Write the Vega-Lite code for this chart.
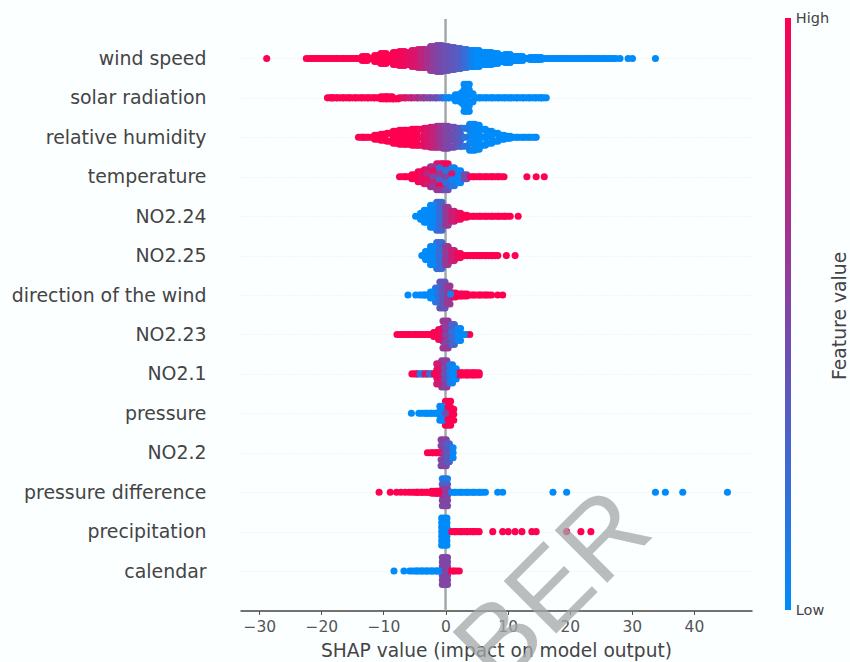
{"$schema":"https://vega.github.io/schema/vega-lite/v6.json","width":512,"height":591.5,"autosize":{"type":"none"},"padding":{"left":240,"top":19,"right":98,"bottom":51.5},"background":"#fcffff","config":{"view":{"stroke":null},"font":"DejaVu Sans"},
"datasets":{"swarm":[
{"f":"wind speed","x":-28.8,"o":0,"v":1},{"f":"wind speed","x":-22,"o":0,"v":1},{"f":"wind speed","x":-21,"o":0,"v":1},{"f":"wind speed","x":-20,"o":0,"v":1},{"f":"wind speed","x":-19,"o":0,"v":1},{"f":"wind speed","x":-18,"o":0,"v":1},{"f":"wind speed","x":-17,"o":0,"v":1},{"f":"wind speed","x":-16,"o":0,"v":1},{"f":"wind speed","x":-15,"o":0,"v":1},{"f":"wind speed","x":-14,"o":0,"v":1},{"f":"wind speed","x":-13,"o":-2,"v":1},{"f":"wind speed","x":-13,"o":2,"v":1},{"f":"wind speed","x":-12,"o":0,"v":1},{"f":"wind speed","x":-11,"o":-3,"v":1},{"f":"wind speed","x":-11,"o":3,"v":1},{"f":"wind speed","x":-10,"o":-5,"v":1},{"f":"wind speed","x":-10,"o":0,"v":1},{"f":"wind speed","x":-10,"o":5,"v":1},{"f":"wind speed","x":-9,"o":-3,"v":1},{"f":"wind speed","x":-9,"o":3,"v":1},
{"f":"wind speed","x":-8,"o":-6,"v":0.97},{"f":"wind speed","x":-8,"o":0,"v":0.97},{"f":"wind speed","x":-8,"o":6,"v":0.97},{"f":"wind speed","x":-7,"o":-7,"v":0.95},{"f":"wind speed","x":-7,"o":-3,"v":0.95},{"f":"wind speed","x":-7,"o":3,"v":0.95},{"f":"wind speed","x":-7,"o":7,"v":0.95},{"f":"wind speed","x":-6,"o":-6,"v":0.9},{"f":"wind speed","x":-6,"o":0,"v":0.9},{"f":"wind speed","x":-6,"o":6,"v":0.9},{"f":"wind speed","x":-5,"o":-8,"v":0.85},{"f":"wind speed","x":-5,"o":-3,"v":0.85},{"f":"wind speed","x":-5,"o":3,"v":0.85},{"f":"wind speed","x":-5,"o":8,"v":0.85},{"f":"wind speed","x":-4,"o":-9,"v":0.75},{"f":"wind speed","x":-4,"o":-6,"v":0.75},{"f":"wind speed","x":-4,"o":0,"v":0.75},{"f":"wind speed","x":-4,"o":6,"v":0.75},{"f":"wind speed","x":-4,"o":9,"v":0.75},{"f":"wind speed","x":-3,"o":-9,"v":0.65},{"f":"wind speed","x":-3,"o":-3,"v":0.65},{"f":"wind speed","x":-3,"o":3,"v":0.65},{"f":"wind speed","x":-3,"o":9,"v":0.65},
{"f":"wind speed","x":-2,"o":-12,"v":0.55},{"f":"wind speed","x":-2,"o":-6,"v":0.55},{"f":"wind speed","x":-2,"o":0,"v":0.55},{"f":"wind speed","x":-2,"o":6,"v":0.55},{"f":"wind speed","x":-2,"o":12,"v":0.55},{"f":"wind speed","x":-1,"o":-13,"v":0.48},{"f":"wind speed","x":-1,"o":-9,"v":0.48},{"f":"wind speed","x":-1,"o":-3,"v":0.48},{"f":"wind speed","x":-1,"o":3,"v":0.48},{"f":"wind speed","x":-1,"o":9,"v":0.48},{"f":"wind speed","x":-1,"o":13,"v":0.48},{"f":"wind speed","x":0,"o":-12,"v":0.42},{"f":"wind speed","x":0,"o":-6,"v":0.42},{"f":"wind speed","x":0,"o":0,"v":0.42},{"f":"wind speed","x":0,"o":6,"v":0.42},{"f":"wind speed","x":0,"o":12,"v":0.42},{"f":"wind speed","x":1,"o":-11,"v":0.38},{"f":"wind speed","x":1,"o":-9,"v":0.38},{"f":"wind speed","x":1,"o":-3,"v":0.38},{"f":"wind speed","x":1,"o":3,"v":0.38},{"f":"wind speed","x":1,"o":9,"v":0.38},{"f":"wind speed","x":1,"o":11,"v":0.38},{"f":"wind speed","x":2,"o":-10,"v":0.32},{"f":"wind speed","x":2,"o":-6,"v":0.32},{"f":"wind speed","x":2,"o":0,"v":0.32},{"f":"wind speed","x":2,"o":6,"v":0.32},{"f":"wind speed","x":2,"o":10,"v":0.32},{"f":"wind speed","x":3,"o":-9,"v":0.22},{"f":"wind speed","x":3,"o":-3,"v":0.22},{"f":"wind speed","x":3,"o":3,"v":0.22},{"f":"wind speed","x":3,"o":9,"v":0.22},{"f":"wind speed","x":4,"o":-8,"v":0.08},{"f":"wind speed","x":4,"o":-6,"v":0.08},{"f":"wind speed","x":4,"o":0,"v":0.08},{"f":"wind speed","x":4,"o":6,"v":0.08},{"f":"wind speed","x":4,"o":8,"v":0.08},
{"f":"wind speed","x":5,"o":-8,"v":0},{"f":"wind speed","x":5,"o":-3,"v":0},{"f":"wind speed","x":5,"o":3,"v":0},{"f":"wind speed","x":5,"o":8,"v":0},{"f":"wind speed","x":6,"o":-6,"v":0},{"f":"wind speed","x":6,"o":0,"v":0},{"f":"wind speed","x":6,"o":6,"v":0},{"f":"wind speed","x":7,"o":-6,"v":0},{"f":"wind speed","x":7,"o":-3,"v":0},{"f":"wind speed","x":7,"o":3,"v":0},{"f":"wind speed","x":7,"o":6,"v":0},{"f":"wind speed","x":8,"o":-5,"v":0},{"f":"wind speed","x":8,"o":0,"v":0},{"f":"wind speed","x":8,"o":5,"v":0},{"f":"wind speed","x":9,"o":-3,"v":0},{"f":"wind speed","x":9,"o":3,"v":0},{"f":"wind speed","x":10,"o":-4,"v":0},{"f":"wind speed","x":10,"o":0,"v":0},{"f":"wind speed","x":10,"o":4,"v":0},{"f":"wind speed","x":11,"o":-2,"v":0},{"f":"wind speed","x":11,"o":2,"v":0},{"f":"wind speed","x":12,"o":-2,"v":0},{"f":"wind speed","x":12,"o":2,"v":0},{"f":"wind speed","x":13,"o":0,"v":0},{"f":"wind speed","x":14,"o":-1,"v":0},{"f":"wind speed","x":14,"o":1,"v":0},{"f":"wind speed","x":15,"o":-1,"v":0},{"f":"wind speed","x":15,"o":1,"v":0},{"f":"wind speed","x":16,"o":0,"v":0},{"f":"wind speed","x":17,"o":0,"v":0},{"f":"wind speed","x":18,"o":0,"v":0},{"f":"wind speed","x":19,"o":0,"v":0},{"f":"wind speed","x":20,"o":0,"v":0},{"f":"wind speed","x":21,"o":0,"v":0},{"f":"wind speed","x":22,"o":0,"v":0},{"f":"wind speed","x":23,"o":0,"v":0},{"f":"wind speed","x":24,"o":0,"v":0},{"f":"wind speed","x":25,"o":0,"v":0},{"f":"wind speed","x":26,"o":0,"v":0},{"f":"wind speed","x":27,"o":0,"v":0},{"f":"wind speed","x":28.1,"o":0,"v":0},{"f":"wind speed","x":29.4,"o":0,"v":0},{"f":"wind speed","x":30.1,"o":0,"v":0},{"f":"wind speed","x":33.8,"o":0,"v":0},
{"f":"solar radiation","x":-18.6,"o":0,"v":1},{"f":"solar radiation","x":-18,"o":0,"v":1},{"f":"solar radiation","x":-17,"o":0,"v":1},{"f":"solar radiation","x":-16,"o":0,"v":1},{"f":"solar radiation","x":-15,"o":0,"v":1},{"f":"solar radiation","x":-14,"o":0,"v":1},{"f":"solar radiation","x":-13,"o":0,"v":1},{"f":"solar radiation","x":-12,"o":0,"v":1},{"f":"solar radiation","x":-11,"o":0,"v":1},{"f":"solar radiation","x":-10,"o":-1,"v":1},{"f":"solar radiation","x":-10,"o":1,"v":1},{"f":"solar radiation","x":-9,"o":-1,"v":1},{"f":"solar radiation","x":-9,"o":1,"v":1},{"f":"solar radiation","x":-8,"o":1,"v":1},{"f":"solar radiation","x":-7,"o":0,"v":0.9},{"f":"solar radiation","x":-6,"o":0,"v":0.8},{"f":"solar radiation","x":-5,"o":0,"v":0.72},{"f":"solar radiation","x":-4,"o":0,"v":0.6},{"f":"solar radiation","x":-3,"o":0,"v":0.5},{"f":"solar radiation","x":-2,"o":0,"v":0.45},{"f":"solar radiation","x":-1,"o":0,"v":0.3},{"f":"solar radiation","x":0,"o":0,"v":0.03},{"f":"solar radiation","x":1,"o":0,"v":0},{"f":"solar radiation","x":2,"o":-3,"v":0},{"f":"solar radiation","x":2,"o":3,"v":0},{"f":"solar radiation","x":3,"o":-5,"v":0},{"f":"solar radiation","x":3,"o":0,"v":0},{"f":"solar radiation","x":3,"o":5,"v":0},{"f":"solar radiation","x":3.4,"o":-13.5,"v":0},{"f":"solar radiation","x":3.4,"o":-8,"v":0},{"f":"solar radiation","x":3.4,"o":8,"v":0},{"f":"solar radiation","x":3.4,"o":13.5,"v":0},{"f":"solar radiation","x":4,"o":-4,"v":0},{"f":"solar radiation","x":4,"o":4,"v":0},{"f":"solar radiation","x":5,"o":0,"v":0},{"f":"solar radiation","x":6,"o":0,"v":0},{"f":"solar radiation","x":7,"o":0,"v":0},{"f":"solar radiation","x":8,"o":0,"v":0},{"f":"solar radiation","x":9,"o":0,"v":0},{"f":"solar radiation","x":10,"o":0,"v":0},{"f":"solar radiation","x":11,"o":0,"v":0},{"f":"solar radiation","x":12,"o":0,"v":0},{"f":"solar radiation","x":13,"o":0,"v":0},{"f":"solar radiation","x":14,"o":0,"v":0},{"f":"solar radiation","x":15,"o":0,"v":0},{"f":"solar radiation","x":15.8,"o":0,"v":0},
{"f":"relative humidity","x":-13.6,"o":0,"v":1},{"f":"relative humidity","x":-13,"o":0,"v":1},{"f":"relative humidity","x":-12,"o":0,"v":1},{"f":"relative humidity","x":-11,"o":-2,"v":1},{"f":"relative humidity","x":-11,"o":2,"v":1},{"f":"relative humidity","x":-10,"o":-3,"v":1},{"f":"relative humidity","x":-10,"o":3,"v":1},{"f":"relative humidity","x":-9,"o":-4,"v":1},{"f":"relative humidity","x":-9,"o":4,"v":1},{"f":"relative humidity","x":-8,"o":-6,"v":1},{"f":"relative humidity","x":-8,"o":0,"v":1},{"f":"relative humidity","x":-8,"o":6,"v":1},{"f":"relative humidity","x":-7,"o":-7,"v":1},{"f":"relative humidity","x":-7,"o":-3,"v":1},{"f":"relative humidity","x":-7,"o":3,"v":1},{"f":"relative humidity","x":-7,"o":7,"v":1},{"f":"relative humidity","x":-6,"o":-7,"v":1},{"f":"relative humidity","x":-6,"o":0,"v":1},{"f":"relative humidity","x":-6,"o":7,"v":1},{"f":"relative humidity","x":-5,"o":-8,"v":1},{"f":"relative humidity","x":-5,"o":-3,"v":1},{"f":"relative humidity","x":-5,"o":3,"v":1},{"f":"relative humidity","x":-5,"o":8,"v":1},{"f":"relative humidity","x":-4,"o":-8,"v":0.92},{"f":"relative humidity","x":-4,"o":0,"v":0.92},{"f":"relative humidity","x":-4,"o":8,"v":0.92},{"f":"relative humidity","x":-3,"o":-9,"v":0.85},{"f":"relative humidity","x":-3,"o":-3,"v":0.85},{"f":"relative humidity","x":-3,"o":3,"v":0.85},{"f":"relative humidity","x":-3,"o":9,"v":0.85},{"f":"relative humidity","x":-2,"o":-10,"v":0.75},{"f":"relative humidity","x":-2,"o":-5,"v":0.75},{"f":"relative humidity","x":-2,"o":0,"v":0.75},{"f":"relative humidity","x":-2,"o":5,"v":0.75},{"f":"relative humidity","x":-2,"o":10,"v":0.75},{"f":"relative humidity","x":-1,"o":-11,"v":0.62},{"f":"relative humidity","x":-1,"o":-6,"v":0.62},{"f":"relative humidity","x":-1,"o":-1,"v":0.62},{"f":"relative humidity","x":-1,"o":4,"v":0.62},{"f":"relative humidity","x":-1,"o":10,"v":0.62},{"f":"relative humidity","x":0,"o":-11,"v":0.5},{"f":"relative humidity","x":0,"o":-6,"v":0.5},{"f":"relative humidity","x":0,"o":0,"v":0.5},{"f":"relative humidity","x":0,"o":6,"v":0.5},{"f":"relative humidity","x":0,"o":11,"v":0.5},{"f":"relative humidity","x":1,"o":-10,"v":0.45},{"f":"relative humidity","x":1,"o":-3,"v":0.45},{"f":"relative humidity","x":1,"o":3,"v":0.45},{"f":"relative humidity","x":1,"o":10,"v":0.45},{"f":"relative humidity","x":2,"o":-9,"v":0.35},{"f":"relative humidity","x":2,"o":-3,"v":0.35},{"f":"relative humidity","x":2,"o":3,"v":0.35},{"f":"relative humidity","x":2,"o":9,"v":0.35},{"f":"relative humidity","x":3,"o":-9,"v":0.15},{"f":"relative humidity","x":3,"o":0,"v":0.15},{"f":"relative humidity","x":3,"o":9,"v":0.15},
{"f":"relative humidity","x":4.3,"o":-13,"v":0.03},{"f":"relative humidity","x":4.3,"o":-7,"v":0.03},{"f":"relative humidity","x":4.3,"o":-1,"v":0.03},{"f":"relative humidity","x":4.3,"o":6,"v":0.03},{"f":"relative humidity","x":4.3,"o":13,"v":0.03},{"f":"relative humidity","x":5,"o":-12,"v":0},{"f":"relative humidity","x":5,"o":-3,"v":0},{"f":"relative humidity","x":5,"o":3,"v":0},{"f":"relative humidity","x":5,"o":12,"v":0},{"f":"relative humidity","x":6,"o":-8,"v":0},{"f":"relative humidity","x":6,"o":0,"v":0},{"f":"relative humidity","x":6,"o":8,"v":0},{"f":"relative humidity","x":7,"o":-6,"v":0},{"f":"relative humidity","x":7,"o":-1,"v":0},{"f":"relative humidity","x":7,"o":6,"v":0},{"f":"relative humidity","x":8,"o":-4,"v":0},{"f":"relative humidity","x":8,"o":4,"v":0},{"f":"relative humidity","x":9,"o":-2,"v":0},{"f":"relative humidity","x":9,"o":2,"v":0},{"f":"relative humidity","x":10,"o":-1,"v":0},{"f":"relative humidity","x":10,"o":1,"v":0},{"f":"relative humidity","x":11,"o":0,"v":0},{"f":"relative humidity","x":12,"o":0,"v":0},{"f":"relative humidity","x":13,"o":0,"v":0},{"f":"relative humidity","x":14,"o":0,"v":0},{"f":"relative humidity","x":14.6,"o":0,"v":0},
{"f":"temperature","x":-7,"o":0,"v":1},{"f":"temperature","x":-6,"o":0,"v":1},{"f":"temperature","x":-5,"o":-2,"v":1},{"f":"temperature","x":-5,"o":2,"v":1},{"f":"temperature","x":-4,"o":-5,"v":0.95},{"f":"temperature","x":-4,"o":0,"v":0.9},{"f":"temperature","x":-4,"o":5,"v":0.95},{"f":"temperature","x":-3,"o":-7,"v":0.85},{"f":"temperature","x":-3,"o":-3,"v":0.7},{"f":"temperature","x":-3,"o":3,"v":0.9},{"f":"temperature","x":-3,"o":7,"v":0.8},{"f":"temperature","x":-2,"o":-10,"v":0.6},{"f":"temperature","x":-2,"o":-6,"v":0.9},{"f":"temperature","x":-2,"o":0,"v":0.5},{"f":"temperature","x":-2,"o":6,"v":0.75},{"f":"temperature","x":-2,"o":10,"v":0.6},{"f":"temperature","x":-1,"o":-13,"v":0.9},{"f":"temperature","x":-1,"o":-9,"v":0.2},{"f":"temperature","x":-1,"o":-3,"v":0.6},{"f":"temperature","x":-1,"o":3,"v":0.3},{"f":"temperature","x":-1,"o":9,"v":1},{"f":"temperature","x":-1,"o":13,"v":0.6},{"f":"temperature","x":0,"o":-13,"v":0.95},{"f":"temperature","x":0,"o":-6,"v":0.15},{"f":"temperature","x":0,"o":0,"v":0.5},{"f":"temperature","x":0,"o":6,"v":0.2},{"f":"temperature","x":0,"o":13,"v":0.4},{"f":"temperature","x":1,"o":-9,"v":0.1},{"f":"temperature","x":1,"o":-3,"v":0.85},{"f":"temperature","x":1,"o":3,"v":0.05},{"f":"temperature","x":1,"o":9,"v":0.15},{"f":"temperature","x":2,"o":-6,"v":0.03},{"f":"temperature","x":2,"o":0,"v":0.03},{"f":"temperature","x":2,"o":6,"v":0.03},{"f":"temperature","x":3,"o":-2,"v":0.45},{"f":"temperature","x":3,"o":2,"v":0.45},{"f":"temperature","x":4,"o":0,"v":1},{"f":"temperature","x":5,"o":0,"v":1},{"f":"temperature","x":6,"o":0,"v":1},{"f":"temperature","x":7,"o":0,"v":1},{"f":"temperature","x":8,"o":0,"v":1},{"f":"temperature","x":9,"o":0,"v":1},{"f":"temperature","x":13.1,"o":0,"v":1},{"f":"temperature","x":14.6,"o":0,"v":1},{"f":"temperature","x":15.9,"o":0,"v":1},
{"f":"NO2.24","x":-4.4,"o":0,"v":0},{"f":"NO2.24","x":-3.6,"o":-3,"v":0},{"f":"NO2.24","x":-3.6,"o":3,"v":0},{"f":"NO2.24","x":-3,"o":-6,"v":0},{"f":"NO2.24","x":-3,"o":0,"v":0},{"f":"NO2.24","x":-3,"o":6,"v":0},{"f":"NO2.24","x":-2,"o":-11,"v":0.03},{"f":"NO2.24","x":-2,"o":-5,"v":0.03},{"f":"NO2.24","x":-2,"o":0,"v":0.03},{"f":"NO2.24","x":-2,"o":5,"v":0.03},{"f":"NO2.24","x":-2,"o":11,"v":0.03},{"f":"NO2.24","x":-1,"o":-14,"v":0.25},{"f":"NO2.24","x":-1,"o":-8,"v":0.25},{"f":"NO2.24","x":-1,"o":-3,"v":0.2},{"f":"NO2.24","x":-1,"o":3,"v":0.2},{"f":"NO2.24","x":-1,"o":8,"v":0.25},{"f":"NO2.24","x":-1,"o":14,"v":0.25},{"f":"NO2.24","x":0,"o":-9,"v":0.6},{"f":"NO2.24","x":0,"o":-3,"v":0.6},{"f":"NO2.24","x":0,"o":3,"v":0.6},{"f":"NO2.24","x":0,"o":9,"v":0.6},{"f":"NO2.24","x":1,"o":-5,"v":0.78},{"f":"NO2.24","x":1,"o":0,"v":0.78},{"f":"NO2.24","x":1,"o":5,"v":0.78},{"f":"NO2.24","x":2,"o":-3,"v":0.92},{"f":"NO2.24","x":2,"o":3,"v":0.92},{"f":"NO2.24","x":3,"o":-1,"v":1},{"f":"NO2.24","x":3,"o":1,"v":1},{"f":"NO2.24","x":4,"o":0,"v":1},{"f":"NO2.24","x":5,"o":0,"v":1},{"f":"NO2.24","x":6,"o":0,"v":1},{"f":"NO2.24","x":7,"o":0,"v":1},{"f":"NO2.24","x":8,"o":0,"v":1},{"f":"NO2.24","x":9,"o":0,"v":1},{"f":"NO2.24","x":10,"o":0,"v":1},{"f":"NO2.24","x":11.7,"o":0,"v":1},
{"f":"NO2.25","x":-3.4,"o":0,"v":0},{"f":"NO2.25","x":-2.8,"o":-4,"v":0},{"f":"NO2.25","x":-2.8,"o":4,"v":0},{"f":"NO2.25","x":-2,"o":-9,"v":0.03},{"f":"NO2.25","x":-2,"o":-3,"v":0.03},{"f":"NO2.25","x":-2,"o":3,"v":0.03},{"f":"NO2.25","x":-2,"o":9,"v":0.03},{"f":"NO2.25","x":-1,"o":-13,"v":0.22},{"f":"NO2.25","x":-1,"o":-6,"v":0.22},{"f":"NO2.25","x":-1,"o":0,"v":0.22},{"f":"NO2.25","x":-1,"o":6,"v":0.22},{"f":"NO2.25","x":-1,"o":13,"v":0.22},{"f":"NO2.25","x":0,"o":-9,"v":0.6},{"f":"NO2.25","x":0,"o":-3,"v":0.6},{"f":"NO2.25","x":0,"o":3,"v":0.6},{"f":"NO2.25","x":0,"o":9,"v":0.6},{"f":"NO2.25","x":1,"o":-5,"v":0.8},{"f":"NO2.25","x":1,"o":0,"v":0.8},{"f":"NO2.25","x":1,"o":5,"v":0.8},{"f":"NO2.25","x":2,"o":-2,"v":0.95},{"f":"NO2.25","x":2,"o":2,"v":0.95},{"f":"NO2.25","x":3,"o":0,"v":1},{"f":"NO2.25","x":4,"o":0,"v":1},{"f":"NO2.25","x":5,"o":0,"v":1},{"f":"NO2.25","x":6,"o":0,"v":1},{"f":"NO2.25","x":7,"o":0,"v":1},{"f":"NO2.25","x":8,"o":0,"v":1},{"f":"NO2.25","x":9.8,"o":0,"v":1},{"f":"NO2.25","x":11.2,"o":0,"v":1},
{"f":"direction of the wind","x":-6.05,"o":0,"v":0},{"f":"direction of the wind","x":-4.8,"o":0,"v":0},{"f":"direction of the wind","x":-3.8,"o":0,"v":0},{"f":"direction of the wind","x":-3,"o":0,"v":0},{"f":"direction of the wind","x":-2,"o":-3,"v":0},{"f":"direction of the wind","x":-2,"o":3,"v":0},{"f":"direction of the wind","x":-1.2,"o":-7,"v":0.2},{"f":"direction of the wind","x":-1.2,"o":0,"v":0.2},{"f":"direction of the wind","x":-1.2,"o":7,"v":0.2},{"f":"direction of the wind","x":-0.5,"o":-13,"v":0.4},{"f":"direction of the wind","x":-0.5,"o":-6,"v":0.4},{"f":"direction of the wind","x":-0.5,"o":0,"v":0.35},{"f":"direction of the wind","x":-0.5,"o":6,"v":0.4},{"f":"direction of the wind","x":-0.5,"o":13,"v":0.4},{"f":"direction of the wind","x":0.3,"o":-9,"v":0.6},{"f":"direction of the wind","x":0.3,"o":-3,"v":0.6},{"f":"direction of the wind","x":0.3,"o":3,"v":0.6},{"f":"direction of the wind","x":0.3,"o":9,"v":0.6},{"f":"direction of the wind","x":1.2,"o":-2,"v":0.9},{"f":"direction of the wind","x":1.2,"o":2,"v":0.9},{"f":"direction of the wind","x":2,"o":-1,"v":1},{"f":"direction of the wind","x":2,"o":1,"v":1},{"f":"direction of the wind","x":3,"o":-1,"v":1},{"f":"direction of the wind","x":3,"o":1,"v":1},{"f":"direction of the wind","x":4,"o":0,"v":1},{"f":"direction of the wind","x":5,"o":0,"v":1},{"f":"direction of the wind","x":6,"o":0,"v":1},{"f":"direction of the wind","x":7,"o":0,"v":1},{"f":"direction of the wind","x":8.4,"o":0,"v":1},{"f":"direction of the wind","x":9.2,"o":0,"v":1},{"f":"direction of the wind","x":0.8,"o":-1,"v":0.05},
{"f":"NO2.23","x":-7.4,"o":0,"v":1},{"f":"NO2.23","x":-6.4,"o":0,"v":1},{"f":"NO2.23","x":-5.4,"o":0,"v":1},{"f":"NO2.23","x":-4.4,"o":0,"v":1},{"f":"NO2.23","x":-3.4,"o":0,"v":1},{"f":"NO2.23","x":-2.4,"o":0,"v":1},{"f":"NO2.23","x":-1.5,"o":-2,"v":1},{"f":"NO2.23","x":-1.5,"o":2,"v":1},{"f":"NO2.23","x":-0.7,"o":-5,"v":0.9},{"f":"NO2.23","x":-0.7,"o":0,"v":0.9},{"f":"NO2.23","x":-0.7,"o":5,"v":0.9},{"f":"NO2.23","x":0,"o":-13.5,"v":0.6},{"f":"NO2.23","x":0,"o":-7,"v":0.55},{"f":"NO2.23","x":0,"o":0,"v":0.5},{"f":"NO2.23","x":0,"o":7,"v":0.5},{"f":"NO2.23","x":0,"o":13.5,"v":0.6},{"f":"NO2.23","x":1,"o":-10,"v":0.3},{"f":"NO2.23","x":1,"o":-3,"v":0.2},{"f":"NO2.23","x":1,"o":3,"v":0.25},{"f":"NO2.23","x":1,"o":10,"v":0.3},{"f":"NO2.23","x":2,"o":-6,"v":0.03},{"f":"NO2.23","x":2,"o":0,"v":0.03},{"f":"NO2.23","x":2,"o":6,"v":0.03},{"f":"NO2.23","x":3.9,"o":0,"v":1},{"f":"NO2.23","x":3,"o":0,"v":0},
{"f":"NO2.1","x":-5,"o":0,"v":1},{"f":"NO2.1","x":-4.1,"o":0,"v":0.1},{"f":"NO2.1","x":-3.3,"o":0,"v":0.9},{"f":"NO2.1","x":-2.6,"o":0,"v":0.2},{"f":"NO2.1","x":-1.8,"o":0,"v":1},{"f":"NO2.1","x":-1,"o":-10,"v":0.8},{"f":"NO2.1","x":-1,"o":-4,"v":0.9},{"f":"NO2.1","x":-1,"o":4,"v":0.9},{"f":"NO2.1","x":-1,"o":10,"v":0.8},{"f":"NO2.1","x":2,"o":-1,"v":1},{"f":"NO2.1","x":2,"o":1,"v":1},{"f":"NO2.1","x":3,"o":-1,"v":1},{"f":"NO2.1","x":3,"o":1,"v":1},{"f":"NO2.1","x":4,"o":-1,"v":1},{"f":"NO2.1","x":4,"o":1,"v":1},{"f":"NO2.1","x":5,"o":-1,"v":1},{"f":"NO2.1","x":5,"o":1,"v":1},{"f":"NO2.1","x":-0.2,"o":-13,"v":0.55},{"f":"NO2.1","x":-0.2,"o":-6,"v":0.45},{"f":"NO2.1","x":-0.2,"o":0,"v":0.4},{"f":"NO2.1","x":-0.2,"o":6,"v":0.45},{"f":"NO2.1","x":-0.2,"o":13,"v":0.55},{"f":"NO2.1","x":0.7,"o":-9,"v":0.1},{"f":"NO2.1","x":0.7,"o":-3,"v":0.1},{"f":"NO2.1","x":0.7,"o":3,"v":0.1},{"f":"NO2.1","x":0.7,"o":9,"v":0.1},{"f":"NO2.1","x":1.3,"o":-5,"v":0},{"f":"NO2.1","x":1.3,"o":0,"v":0},{"f":"NO2.1","x":1.3,"o":5,"v":0},
{"f":"pressure","x":-5.5,"o":0,"v":0},{"f":"pressure","x":-4.3,"o":0,"v":0},{"f":"pressure","x":-3.5,"o":0,"v":0},{"f":"pressure","x":-2.7,"o":0,"v":0},{"f":"pressure","x":-1.9,"o":0,"v":0},{"f":"pressure","x":-1.1,"o":0,"v":0},{"f":"pressure","x":-0.5,"o":-7,"v":0.02},{"f":"pressure","x":-0.5,"o":-2,"v":0.02},{"f":"pressure","x":-0.5,"o":2,"v":0.02},{"f":"pressure","x":-0.5,"o":7,"v":0.02},{"f":"pressure","x":0.4,"o":-12,"v":1},{"f":"pressure","x":0.4,"o":-6,"v":1},{"f":"pressure","x":0.4,"o":6,"v":1},{"f":"pressure","x":0.4,"o":12,"v":1},{"f":"pressure","x":0.9,"o":-4,"v":1},{"f":"pressure","x":0.9,"o":1,"v":1},{"f":"pressure","x":0.9,"o":7,"v":1},{"f":"pressure","x":0,"o":0,"v":0.45},
{"f":"NO2.2","x":-2.5,"o":0,"v":1},{"f":"NO2.2","x":-1.6,"o":0,"v":1},{"f":"NO2.2","x":-1,"o":0,"v":1},{"f":"NO2.2","x":0.8,"o":-5,"v":0.03},{"f":"NO2.2","x":0.8,"o":0,"v":0.03},{"f":"NO2.2","x":0.8,"o":5,"v":0.03},{"f":"NO2.2","x":-0.3,"o":-13,"v":0.55},{"f":"NO2.2","x":-0.3,"o":-7,"v":0.5},{"f":"NO2.2","x":-0.3,"o":0,"v":0.6},{"f":"NO2.2","x":-0.3,"o":7,"v":0.5},{"f":"NO2.2","x":-0.3,"o":13,"v":0.5},{"f":"NO2.2","x":0.2,"o":-9,"v":0.3},{"f":"NO2.2","x":0.2,"o":-3,"v":0.35},{"f":"NO2.2","x":0.2,"o":3,"v":0.35},{"f":"NO2.2","x":0.2,"o":9,"v":0.35},
{"f":"pressure difference","x":-10.7,"o":0,"v":1},{"f":"pressure difference","x":-8.9,"o":0,"v":1},{"f":"pressure difference","x":-7.9,"o":0,"v":1},{"f":"pressure difference","x":-7.2,"o":0,"v":1},{"f":"pressure difference","x":-6.5,"o":0,"v":1},{"f":"pressure difference","x":-5.9,"o":0,"v":1},{"f":"pressure difference","x":-5,"o":0,"v":1},{"f":"pressure difference","x":-4.2,"o":0,"v":1},{"f":"pressure difference","x":-3.4,"o":0,"v":1},{"f":"pressure difference","x":-2.6,"o":0,"v":1},{"f":"pressure difference","x":-1.8,"o":-1,"v":1},{"f":"pressure difference","x":-1.8,"o":1,"v":1},{"f":"pressure difference","x":-1,"o":-1,"v":1},{"f":"pressure difference","x":-1,"o":1,"v":1},{"f":"pressure difference","x":1,"o":0,"v":0},{"f":"pressure difference","x":2,"o":0,"v":0},{"f":"pressure difference","x":3,"o":0,"v":0},{"f":"pressure difference","x":4,"o":0,"v":0},{"f":"pressure difference","x":5,"o":0,"v":0},{"f":"pressure difference","x":6,"o":0,"v":0},{"f":"pressure difference","x":8.4,"o":0,"v":0},{"f":"pressure difference","x":9.2,"o":0,"v":0},{"f":"pressure difference","x":17.3,"o":0,"v":0},{"f":"pressure difference","x":19.5,"o":0,"v":0},{"f":"pressure difference","x":33.8,"o":0,"v":0},{"f":"pressure difference","x":35.4,"o":0,"v":0},{"f":"pressure difference","x":38.2,"o":0,"v":0},{"f":"pressure difference","x":45.4,"o":0,"v":0},{"f":"pressure difference","x":-0.1,"o":-13.5,"v":0.1},{"f":"pressure difference","x":-0.1,"o":-8,"v":0.3},{"f":"pressure difference","x":-0.1,"o":-3,"v":0.55},{"f":"pressure difference","x":-0.1,"o":3,"v":0.55},{"f":"pressure difference","x":-0.1,"o":8,"v":0.5},{"f":"pressure difference","x":-0.1,"o":13.5,"v":0.5},
{"f":"precipitation","x":1,"o":0,"v":1},{"f":"precipitation","x":2,"o":0,"v":1},{"f":"precipitation","x":3,"o":0,"v":1},{"f":"precipitation","x":4,"o":0,"v":1},{"f":"precipitation","x":5,"o":0,"v":1},{"f":"precipitation","x":7.6,"o":0,"v":1},{"f":"precipitation","x":9.2,"o":0,"v":1},{"f":"precipitation","x":10.1,"o":0,"v":1},{"f":"precipitation","x":11.2,"o":0,"v":1},{"f":"precipitation","x":12.3,"o":0,"v":1},{"f":"precipitation","x":13.9,"o":0,"v":1},{"f":"precipitation","x":14.6,"o":0,"v":1},{"f":"precipitation","x":19.5,"o":0,"v":1},{"f":"precipitation","x":21.8,"o":0,"v":1},{"f":"precipitation","x":23.4,"o":0,"v":1},{"f":"precipitation","x":-0.2,"o":-13.5,"v":0},{"f":"precipitation","x":-0.2,"o":-9,"v":0},{"f":"precipitation","x":-0.2,"o":-4.5,"v":0},{"f":"precipitation","x":-0.2,"o":0,"v":0},{"f":"precipitation","x":-0.2,"o":4.5,"v":0},{"f":"precipitation","x":-0.2,"o":9,"v":0},{"f":"precipitation","x":-0.2,"o":13.5,"v":0},
{"f":"calendar","x":-8.3,"o":0,"v":0},{"f":"calendar","x":-6.7,"o":0,"v":0},{"f":"calendar","x":-5.8,"o":0,"v":0},{"f":"calendar","x":-5,"o":0,"v":0},{"f":"calendar","x":-4.2,"o":0,"v":0},{"f":"calendar","x":-3.4,"o":0,"v":0},{"f":"calendar","x":-2.6,"o":0,"v":0},{"f":"calendar","x":-1.8,"o":0,"v":0},{"f":"calendar","x":-1,"o":0,"v":0},{"f":"calendar","x":0.8,"o":0,"v":1},{"f":"calendar","x":1.8,"o":0,"v":1},{"f":"calendar","x":-0.1,"o":-13.5,"v":0.5},{"f":"calendar","x":-0.1,"o":-9,"v":0.5},{"f":"calendar","x":-0.1,"o":-4.5,"v":0.5},{"f":"calendar","x":-0.1,"o":0,"v":0.5},{"f":"calendar","x":-0.1,"o":4.5,"v":0.5},{"f":"calendar","x":-0.1,"o":9,"v":0.5},{"f":"calendar","x":-0.1,"o":13.5,"v":0.5}
]},
"layer":[
{"data":{"values":[{"x":0}]},"mark":{"type":"rule","color":"#a5a8a8","strokeWidth":2.5},"encoding":{"x":{"field":"x","type":"quantitative","scale":{"domain":[-33.1,49.35],"nice":false,"zero":false},"axis":{"values":[-30,-20,-10,0,10,20,30,40],"title":"SHAP value (impact on model output)","grid":false,"domainColor":"#444","domainWidth":1.4,"tickColor":"#555","tickSize":4,"labelColor":"#555","labelFontSize":15.5,"labelPadding":5,"titleColor":"#444","titleFontSize":18.6,"titleFontWeight":"normal","titlePadding":6}}}},
{"data":{"name":"swarm"},"transform":[{"filter":"indexof([-28.8,28.1,29.4,30.1,33.8,13.1,14.6,15.9,11.7,9.8,11.2,-6.05,-4.8,8.4,9.2,3.9,-5.5,-4.3,-10.7,-8.9,-7.9,-7.2,-6.5,-5.9,17.3,19.5,35.4,38.2,45.4,7.6,10.1,12.3,13.9,21.8,23.4,-8.3,-6.7,-5.8],datum.x)<0"}],"mark":{"type":"point","filled":true,"opacity":1,"size":50,"shape":"circle"},"encoding":{"x":{"field":"x","type":"quantitative"},"xOffset":{"value":-2.6},"y":{"field":"f","type":"nominal","scale":{"type":"point","padding":1}},"yOffset":{"field":"o","type":"quantitative","scale":{"domain":[-20,20],"range":[-20,20]}},"color":{"field":"v","type":"quantitative"}}},
{"data":{"name":"swarm"},"transform":[{"filter":"indexof([-28.8,28.1,29.4,30.1,33.8,13.1,14.6,15.9,11.7,9.8,11.2,-6.05,-4.8,8.4,9.2,3.9,-5.5,-4.3,-10.7,-8.9,-7.9,-7.2,-6.5,-5.9,17.3,19.5,35.4,38.2,45.4,7.6,10.1,12.3,13.9,21.8,23.4,-8.3,-6.7,-5.8],datum.x)<0"}],"mark":{"type":"point","filled":true,"opacity":1,"size":50,"shape":"circle"},"encoding":{"x":{"field":"x","type":"quantitative"},"xOffset":{"value":2.6},"y":{"field":"f","type":"nominal","scale":{"type":"point","padding":1}},"yOffset":{"field":"o","type":"quantitative","scale":{"domain":[-20,20],"range":[-20,20]}},"color":{"field":"v","type":"quantitative"}}},
{"data":{"name":"swarm"},"mark":{"type":"point","filled":true,"opacity":1,"size":50,"shape":"circle"},"encoding":{"x":{"field":"x","type":"quantitative"},"y":{"field":"f","type":"nominal","sort":null,"title":null,"scale":{"type":"point","padding":1,"domain":["wind speed","solar radiation","relative humidity","temperature","NO2.24","NO2.25","direction of the wind","NO2.23","NO2.1","pressure","NO2.2","pressure difference","precipitation","calendar"]},"axis":{"domain":false,"ticks":false,"labelPadding":34,"labelFontSize":18.9,"labelColor":"#444","labelLimit":240,"grid":true,"gridColor":"#f3e6e8","gridDash":[1,2],"gridWidth":1.2}},"yOffset":{"field":"o","type":"quantitative","scale":{"domain":[-20,20],"range":[-20,20]}},"color":{"field":"v","type":"quantitative","scale":{"domain":[0,1],"range":["#008bfb","#ff0051"],"interpolate":"rgb"},"legend":{"orient":"none","legendX":545,"legendY":-1,"title":null,"padding":0,"gradientThickness":6,"gradientLength":592,"gradientStrokeWidth":0,"values":[0,1],"labelExpr":"''"}}}},
{"data":{"values":[{"f":"NO2.23","x":63.5,"t":"Feature value"}]},"mark":{"type":"text","angle":270,"fontSize":18.8,"color":"#444","dx":18.6,"align":"center","baseline":"middle"},"encoding":{"x":{"field":"x","type":"quantitative"},"y":{"field":"f","type":"nominal"},"text":{"field":"t"}}},
{"data":{"values":[{"f":"wind speed","x":56.4,"t":"High"}]},"mark":{"type":"text","fontSize":14.5,"color":"#444","dy":-39.8,"align":"left","baseline":"middle"},"encoding":{"x":{"field":"x","type":"quantitative"},"y":{"field":"f","type":"nominal"},"text":{"field":"t"}}},
{"data":{"values":[{"f":"calendar","x":56.4,"t":"Low"}]},"mark":{"type":"text","fontSize":14.5,"color":"#444","dy":40,"align":"left","baseline":"middle"},"encoding":{"x":{"field":"x","type":"quantitative"},"y":{"field":"f","type":"nominal"},"text":{"field":"t"}}},
{"data":{"values":[{"f":"calendar","x":16.8,"t":"BER"}]},"mark":{"type":"text","angle":315,"fontSize":108,"font":"Liberation Sans","color":"#a3a8a8","opacity":0.75,"dx":-9.6,"dy":16.7,"align":"center","baseline":"middle"},"encoding":{"x":{"field":"x","type":"quantitative"},"y":{"field":"f","type":"nominal"},"text":{"field":"t"}}}
]}
